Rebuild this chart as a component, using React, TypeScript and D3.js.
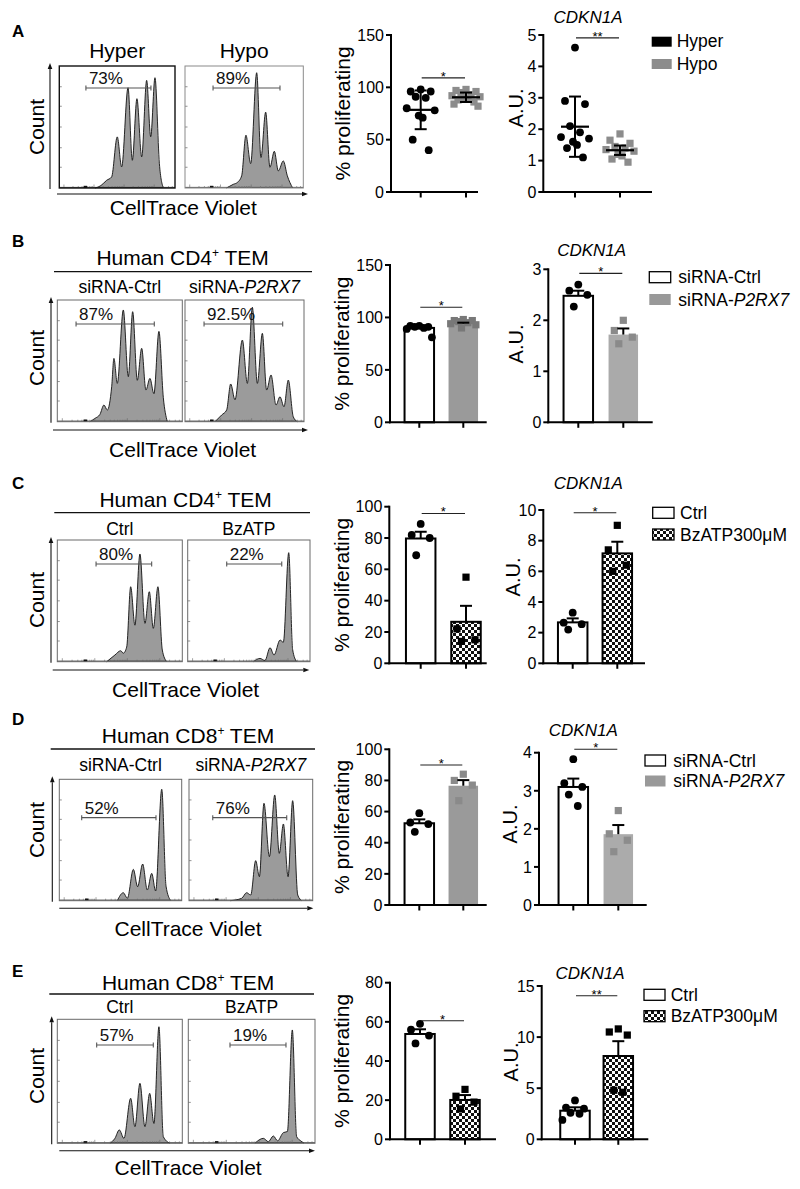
import React from 'react';
import * as d3 from 'd3';

type Pt = [number, number];
const FONT = "'Liberation Sans', Arial, Helvetica, sans-serif";

// ================= Flow histograms (x: CTV position 0-100 across plot, y: count % of max) =================
const histA_hyper: Pt[] = [[31, 0], [36, 2], [40.9, 6.3], [45.2, 9], [50.1, 41.9], [53.9, 17.3], [59.4, 82.2], [63.1, 22.7], [67.1, 73.2], [71.2, 25.5], [75.5, 88.2], [79, 42], [82.7, 90.4], [86.5, 20], [89.9, 0]];
const histA_hypo: Pt[] = [[35, 0], [40.8, 3], [44.2, 4.5], [47.9, 10], [51.5, 43.3], [55.5, 20], [60.6, 94.5], [64.2, 25], [68.2, 62.2], [71.8, 17], [75.5, 30.1], [78.9, 14], [83.1, 22.2], [86.5, 10], [91, 0]];
const histB_ctrl: Pt[] = [[26, 0], [30.1, 2.7], [34.1, 6], [37.3, 13.7], [40, 9.6], [43.5, 28.8], [45.3, 52], [48, 31.5], [52.8, 91.8], [56.8, 37], [60.3, 90.4], [64, 34], [67.5, 60.3], [70.9, 26], [74.1, 35.6], [77.3, 23], [81.3, 74.2], [84.8, 20], [88, 0]];
const histB_p2rx7: Pt[] = [[25.2, 0], [30.8, 5.5], [35, 9.6], [38.4, 31], [42, 18], [48.2, 67.1], [52.4, 31.5], [56.6, 94], [60.8, 31.5], [65, 72.6], [68.6, 26], [72.3, 38.4], [76.5, 13.7], [79.8, 20.5], [83.2, 12.3], [86.8, 34.2], [91, 4], [94.4, 0]];
const histC_ctrl: Pt[] = [[39.5, 0], [46.1, 5.5], [50.7, 9], [52.8, 7], [55.5, 12], [58.7, 61.6], [62.1, 30], [66.1, 88.5], [70.1, 31.5], [73.6, 57.5], [76.8, 27.4], [80.5, 61.6], [84, 9.6], [87.5, 0]];
const histC_bzatp: Pt[] = [[53.7, 0], [59.1, 2.7], [63.2, 1], [67.3, 11.5], [70.6, 5.5], [75.5, 17.8], [78.2, 16], [82.6, 89.6], [85.8, 10], [89.1, 0]];
const histD_ctrl: Pt[] = [[47.4, 0], [52.3, 6.6], [55.6, 2], [60.5, 25.8], [64, 11.5], [68.1, 30.2], [71.9, 8.8], [75.5, 22.5], [78.7, 8], [83.7, 91.8], [87.2, 12], [91, 0]];
const histD_p2rx7: Pt[] = [[33.2, 0], [42.6, 2], [46.6, 6.6], [49.9, 4.7], [53.9, 33], [56.9, 19.8], [60.6, 80.2], [65, 36.3], [69.3, 87.1], [73, 39], [76.3, 63.2], [80.1, 19.8], [83.8, 82.4], [87.9, 4.7], [91.1, 0]];
const histE_ctrl: Pt[] = [[42.1, 0], [46.1, 4], [49.6, 10.8], [53.3, 4], [58.7, 36.3], [62.1, 13.4], [66.1, 48.4], [70.1, 13.4], [73.9, 40.3], [77.3, 16], [81.3, 94], [84.8, 5.4], [90.1, 0]];
const histE_bzatp: Pt[] = [[52.6, 0], [59.2, 4], [63.2, 1.3], [67.1, 5.9], [70.5, 2], [75, 8.6], [78.2, 9.5], [82.1, 91.4], [85.5, 5.4], [88.7, 2], [91.3, 0]];

// gates: [start, end, level]
const gateLabels = [['73%', '89%'], ['87%', '92.5%'], ['80%', '22%'], ['52%', '76%'], ['57%', '19%']];
const gateRanges: [number, number, number][][] = [
  [[23, 79.2, 82], [23.7, 80.3, 82]],
  [[15, 77.6, 80.3], [16, 82.1, 80.3]],
  [[31, 75.5, 80.3], [31.9, 76.9, 80.3]],
  [[18.3, 79, 68.4], [19.2, 79, 68.4]],
  [[31.5, 76.8, 79.3], [32.9, 77.1, 79.3]],
];
const conditionLabels = [['Hyper', 'Hypo'], ['siRNA-Ctrl', 'siRNA-P2RX7'], ['Ctrl', 'BzATP'], ['siRNA-Ctrl', 'siRNA-P2RX7'], ['Ctrl', 'BzATP']];
const headerCells = [null, '4', '4', '8', '8'];
const panelLetters = ['A', 'B', 'C', 'D', 'E'];
const histSets = [[histA_hyper, histA_hypo], [histB_ctrl, histB_p2rx7], [histC_ctrl, histC_bzatp], [histD_ctrl, histD_p2rx7], [histE_ctrl, histE_bzatp]];

// ================= Quantification data =================
// Panel A (dot plots, mean ± SD)
const prolifA_hyper = [98, 96, 96, 91, 90, 80, 78, 73, 71, 50, 40];
const prolifA_hypo = [98, 97, 96, 95, 93, 92, 91, 90, 89, 88, 86, 84, 82];
const prolifA_mean = [78.5, 90.5];
const prolifA_err = [18.5, 4.5];
const cdknA_hyper = [4.6, 2.9, 2.8, 2.1, 1.9, 1.75, 1.7, 1.6, 1.5, 1.4, 1.1];
const cdknA_hypo = [1.85, 1.65, 1.55, 1.45, 1.4, 1.35, 1.3, 1.2, 1.15, 1.05, 0.95];
const cdknA_mean = [2.08, 1.33];
const cdknA_err = [0.96, 0.15];
// Panel B
const prolifB_ctrl = [92, 92, 91, 91, 90, 89, 81];
const prolifB_p2rx7 = [98, 97, 97, 96, 95, 94, 93, 90];
const prolifB_mean = [90, 94];
const prolifB_err = [1.5, 1.0];
const cdknB_ctrl = [2.7, 2.58, 2.5, 2.27];
const cdknB_p2rx7 = [2.0, 1.8, 1.67, 1.54];
const cdknB_mean = [2.48, 1.72];
const cdknB_err = [0.1, 0.12];
// Panel C
const prolifC_ctrl = [89, 82, 80, 69];
const prolifC_bzatp = [55, 22, 15, 14];
const prolifC_mean = [79.7, 26.5];
const prolifC_err = [4.3, 10.2];
const cdknC_ctrl = [3.3, 2.65, 2.55, 2.2];
const cdknC_bzatp = [9.0, 7.4, 6.4, 6.0];
const cdknC_mean = [2.67, 7.17];
const cdknC_err = [0.26, 0.76];
// Panel D
const prolifD_ctrl = [59, 53, 52, 47];
const prolifD_p2rx7 = [84, 80, 77, 67];
const prolifD_mean = [52.5, 76.6];
const prolifD_err = [2.5, 3.6];
const cdknD_ctrl = [3.83, 3.2, 3.1, 2.9, 2.6];
const cdknD_p2rx7 = [2.48, 1.87, 1.7, 1.4];
const cdknD_mean = [3.1, 1.86];
const cdknD_err = [0.22, 0.24];
// Panel E
const prolifE_ctrl = [59, 56, 53, 49];
const prolifE_bzatp = [25.5, 22, 19, 15.5];
const prolifE_mean = [53.8, 20.1];
const prolifE_err = [2.4, 2.5];
const cdknE_ctrl = [3.8, 3.1, 3.0, 2.6, 2.5, 1.9];
const cdknE_bzatp = [10.8, 10.5, 10.2, 4.8, 4.6];
const cdknE_mean = [2.8, 8.15];
const cdknE_err = [0.33, 1.45];

const ticksA_prolif = [0, 50, 100, 150];
const ticksA_cdkn = [0, 1, 2, 3, 4, 5];
const ticksB_prolif = [0, 50, 100, 150];
const ticksB_cdkn = [0, 1, 2, 3];
const ticksC_prolif = [0, 20, 40, 60, 80, 100];
const ticksC_cdkn = [0, 2, 4, 6, 8, 10];
const ticksD_prolif = [0, 20, 40, 60, 80, 100];
const ticksD_cdkn = [0, 1, 2, 3, 4];
const ticksE_prolif = [0, 20, 40, 60, 80];
const ticksE_cdkn = [0, 5, 10, 15];

const sigProlif = ['*', '*', '*', '*', '*'];
const sigCdkn = ['**', '*', '*', '*', '**'];
const legendLabels = [['Hyper', 'Hypo'], ['siRNA-Ctrl', 'siRNA-P2RX7'], ['Ctrl', 'BzATP300μM'], ['siRNA-Ctrl', 'siRNA-P2RX7'], ['Ctrl', 'BzATP300μM']];

// ================= Layout =================
const flowLayout = [
  { letterY: 36.5, headerY: 0, lineY: 0, lineX: [0, 0], condY: 58, condSize: 21, boxes: [[59.3, 175], [185, 303.3]], boxY: [66, 188], borders: ['#111', '#8a8a8a'], bws: [1.4, 1], yArrowX: 50, xArrowY: 194, xArrowX: [57, 308], ctvY: 215, countY: 127 },
  { letterY: 247, headerY: 265, lineY: 271.7, lineX: [54, 312], condY: 293, condSize: 17.5, boxes: [[57.3, 182.3], [185, 304]], boxY: [300, 421.7], borders: ['#6a6a6a', '#6a6a6a'], bws: [1, 1], yArrowX: 51, xArrowY: 430, xArrowX: [53, 308], ctvY: 456.5, countY: 358 },
  { letterY: 489, headerY: 506.7, lineY: 512.7, lineX: [54.3, 310], condY: 535, condSize: 17.5, boxes: [[57.3, 182.3], [187.7, 310]], boxY: [540, 661.7], borders: ['#6a6a6a', '#6a6a6a'], bws: [1, 1], yArrowX: 51, xArrowY: 670, xArrowX: [52.7, 309.3], ctvY: 697, countY: 600 },
  { letterY: 725, headerY: 743.3, lineY: 749, lineX: [50.7, 315], condY: 771, condSize: 17.5, boxes: [[59.3, 181.7], [189, 312.7]], boxY: [779.3, 900.7], borders: ['#6a6a6a', '#6a6a6a'], bws: [1, 1], yArrowX: 52.3, xArrowY: 908.3, xArrowX: [59.3, 313.3], ctvY: 936, countY: 830 },
  { letterY: 976.5, headerY: 990, lineY: 994, lineX: [49.3, 314], condY: 1013.3, condSize: 17.5, boxes: [[57.3, 182.3], [188.3, 315]], boxY: [1019.3, 1143.3], borders: ['#6a6a6a', '#6a6a6a'], bws: [1, 1], yArrowX: 51.7, xArrowY: 1150.7, xArrowX: [59.3, 315], ctvY: 1175, countY: 1076 },
];

interface Group { values: number[]; mean: number; err: number; fill: string; stroke: string; pt: string; shape: 'circle' | 'square'; }
interface ChartCfg {
  kind: 'bar' | 'scatter'; axisX: number; yTop: number; yBot: number; xEnd: number; c1: number; c2: number;
  ticks: number[]; groups: Group[]; sigY: number; sig: string; ylabel: string; ylX: number; ylY: number;
  title?: [number, number];
}

const JIT = [0, -1, 1, -0.5, 0.5, -1.4, 1.4, -0.2, 0.2, -0.8, 0.8, -1.2, 1.2];

const white = (values: number[], mean: number, err: number): Group => ({ values, mean, err, fill: '#fff', stroke: '#000', pt: '#000', shape: 'circle' });
const checker = (values: number[], mean: number, err: number): Group => ({ values, mean, err, fill: 'url(#checker)', stroke: '#000', pt: '#000', shape: 'square' });
const grey = (values: number[], mean: number, err: number, fill: string, pt: string): Group => ({ values, mean, err, fill, stroke: 'none', pt, shape: 'square' });

const charts: ChartCfg[] = [
  { kind: 'scatter', axisX: 391, yTop: 35, yBot: 192, xEnd: 478, c1: 420.7, c2: 466, ticks: ticksA_prolif, sigY: 109, sig: sigProlif[0], ylabel: '% proliferating', ylX: 349.5, ylY: 113.5,
    groups: [{ values: prolifA_hyper, mean: prolifA_mean[0], err: prolifA_err[0], fill: 'none', stroke: '#000', pt: '#000', shape: 'circle' }, { values: prolifA_hypo, mean: prolifA_mean[1], err: prolifA_err[1], fill: 'none', stroke: '#000', pt: '#8c8c8c', shape: 'square' }] },
  { kind: 'scatter', axisX: 543.3, yTop: 35, yBot: 192, xEnd: 652, c1: 575, c2: 620, ticks: ticksA_cdkn, sigY: 4.91, sig: sigCdkn[0], ylabel: 'A.U.', ylX: 523, ylY: 108, title: [588, 23],
    groups: [{ values: cdknA_hyper, mean: cdknA_mean[0], err: cdknA_err[0], fill: 'none', stroke: '#000', pt: '#000', shape: 'circle' }, { values: cdknA_hypo, mean: cdknA_mean[1], err: cdknA_err[1], fill: 'none', stroke: '#000', pt: '#8c8c8c', shape: 'square' }] },
  { kind: 'bar', axisX: 390, yTop: 265, yBot: 422.3, xEnd: 486.7, c1: 419.3, c2: 463.3, ticks: ticksB_prolif, sigY: 109.7, sig: sigProlif[1], ylabel: '% proliferating', ylX: 348.5, ylY: 343.7,
    groups: [white(prolifB_ctrl, prolifB_mean[0], prolifB_err[0]), grey(prolifB_p2rx7, prolifB_mean[1], prolifB_err[1], '#9a9a9a', '#787878')] },
  { kind: 'bar', axisX: 548.3, yTop: 269.3, yBot: 422.3, xEnd: 652.7, c1: 578.3, c2: 623.3, ticks: ticksB_cdkn, sigY: 2.92, sig: sigCdkn[1], ylabel: 'A.U.', ylX: 523, ylY: 344, title: [591.7, 256.7],
    groups: [white(cdknB_ctrl, cdknB_mean[0], cdknB_err[0]), grey(cdknB_p2rx7, cdknB_mean[1], cdknB_err[1], '#aaaaaa', '#8a8a8a')] },
  { kind: 'bar', axisX: 389.3, yTop: 506.7, yBot: 663.3, xEnd: 486.7, c1: 420.7, c2: 466, ticks: ticksC_prolif, sigY: 95.7, sig: sigProlif[2], ylabel: '% proliferating', ylX: 348.5, ylY: 585,
    groups: [white(prolifC_ctrl, prolifC_mean[0], prolifC_err[0]), checker(prolifC_bzatp, prolifC_mean[1], prolifC_err[1])] },
  { kind: 'bar', axisX: 543.3, yTop: 510, yBot: 663.3, xEnd: 645, c1: 572.7, c2: 617.3, ticks: ticksC_cdkn, sigY: 9.82, sig: sigCdkn[2], ylabel: 'A.U.', ylX: 520, ylY: 577, title: [588.3, 489.3],
    groups: [white(cdknC_ctrl, cdknC_mean[0], cdknC_err[0]), checker(cdknC_bzatp, cdknC_mean[1], cdknC_err[1])] },
  { kind: 'bar', axisX: 389.3, yTop: 749.3, yBot: 905, xEnd: 486.7, c1: 419.3, c2: 463.3, ticks: ticksD_prolif, sigY: 89.9, sig: sigProlif[3], ylabel: '% proliferating', ylX: 348.5, ylY: 827,
    groups: [white(prolifD_ctrl, prolifD_mean[0], prolifD_err[0]), grey(prolifD_p2rx7, prolifD_mean[1], prolifD_err[1], '#9a9a9a', '#8a8a8a')] },
  { kind: 'bar', axisX: 539, yTop: 752.7, yBot: 905, xEnd: 646.7, c1: 573.3, c2: 618.3, ticks: ticksD_cdkn, sigY: 4.09, sig: sigCdkn[3], ylabel: 'A.U.', ylX: 517, ylY: 824, title: [583.3, 736.7],
    groups: [white(cdknD_ctrl, cdknD_mean[0], cdknD_err[0]), grey(cdknD_p2rx7, cdknD_mean[1], cdknD_err[1], '#ababab', '#8c8c8c')] },
  { kind: 'bar', axisX: 390, yTop: 982.7, yBot: 1139.3, xEnd: 496, c1: 420, c2: 465, ticks: ticksE_prolif, sigY: 60.6, sig: sigProlif[4], ylabel: '% proliferating', ylX: 348.5, ylY: 1061,
    groups: [white(prolifE_ctrl, prolifE_mean[0], prolifE_err[0]), checker(prolifE_bzatp, prolifE_mean[1], prolifE_err[1])] },
  { kind: 'bar', axisX: 541.7, yTop: 986, yBot: 1139.3, xEnd: 648.3, c1: 575, c2: 618.3, ticks: ticksE_cdkn, sigY: 14.05, sig: sigCdkn[4], ylabel: 'A.U.', ylX: 518.3, ylY: 1062, title: [590, 979.3],
    groups: [white(cdknE_ctrl, cdknE_mean[0], cdknE_err[0]), checker(cdknE_bzatp, cdknE_mean[1], cdknE_err[1])] },
];

const legendLayout = [
  { x: 651.7, ys: [36.7, 59], w: 20, h: 10, tx: 676.7, styles: [{ fill: '#000', stroke: 'none' }, { fill: '#8c8c8c', stroke: 'none' }] },
  { x: 649.3, ys: [271.7, 294], w: 21.4, h: 11, tx: 678.3, styles: [{ fill: '#fff', stroke: '#000' }, { fill: '#999', stroke: 'none' }] },
  { x: 652.7, ys: [507.3, 529], w: 21.3, h: 11, tx: 680, styles: [{ fill: '#fff', stroke: '#000' }, { fill: 'url(#checker)', stroke: '#000' }] },
  { x: 645, ys: [755, 775.5], w: 20.5, h: 11, tx: 673.3, styles: [{ fill: '#fff', stroke: '#000' }, { fill: '#999', stroke: 'none' }] },
  { x: 644, ys: [989.3, 1010.7], w: 21, h: 11, tx: 670.7, styles: [{ fill: '#fff', stroke: '#000' }, { fill: 'url(#checker)', stroke: '#000' }] },
];

// ================= Components =================
function Rich({ text }: { text: string }) {
  const k = text.indexOf('P2RX7');
  if (k < 0) return <>{text}</>;
  return <>{text.slice(0, k)}<tspan fontStyle="italic">P2RX7</tspan>{text.slice(k + 5)}</>;
}

function Arrow({ x1, y1, x2, y2 }: { x1: number; y1: number; x2: number; y2: number }) {
  const dx = x2 - x1, dy = y2 - y1, L = Math.hypot(dx, dy);
  const ux = dx / L, uy = dy / L;
  const hl = 6, hw = 2.3;
  const bx = x2 - ux * hl, by = y2 - uy * hl;
  return (
    <g>
      <line x1={x1} y1={y1} x2={bx} y2={by} stroke="#111" strokeWidth={1.1} />
      <polygon points={`${x2},${y2} ${bx - uy * hw},${by + ux * hw} ${bx + uy * hw},${by - ux * hw}`} fill="#111" />
    </g>
  );
}

function Hist({ box, yr, data, gate, label, border, bw }: { box: number[]; yr: number[]; data: Pt[]; gate: [number, number, number]; label: string; border: string; bw: number }) {
  const [x0, x1] = box; const [y0, y1] = yr;
  const xs = d3.scaleLinear().domain([0, 100]).range([x0, x1]);
  const ys = d3.scaleLinear().domain([0, 100]).range([y1, y0]);
  const area = d3.area<Pt>().x(d => xs(d[0])).y0(ys(0)).y1(d => ys(d[1])).curve(d3.curveMonotoneX);
  const line = d3.line<Pt>().x(d => xs(d[0])).y(d => ys(d[1])).curve(d3.curveMonotoneX);
  const leftTicks = [17, 33, 50, 67, 83];
  const bottomTicks: { p: number; major: boolean }[] = [];
  [4, 30, 56, 82].forEach(dd => { for (let m = 1; m <= 9; m++) { const p = dd + Math.log10(m) * 26; if (p < 99) bottomTicks.push({ p, major: m === 1 }); } });
  const gy = ys(gate[2]);
  return (
    <g>
      <path d={area(data) || ''} fill="#9b9b9b" />
      <path d={line(data) || ''} fill="none" stroke="#111" strokeWidth={0.9} />
      <line x1={x0} x2={x1} y1={y1 - 0.6} y2={y1 - 0.6} stroke="#222" strokeWidth={0.8} />
      {leftTicks.map((t, i) => <line key={'l' + i} x1={x0} x2={x0 + 2.5} y1={ys(t)} y2={ys(t)} stroke="#666" strokeWidth={0.7} />)}
      {bottomTicks.map((t, i) => <line key={'b' + i} x1={xs(t.p)} x2={xs(t.p)} y1={y1} y2={y1 - (t.major ? 3.5 : 2)} stroke="#666" strokeWidth={0.6} />)}
      <rect x={xs(21)} y={y1 - 2.2} width={3.5} height={2.2} fill="#111" />
      <rect x={x0} y={y0} width={x1 - x0} height={y1 - y0} fill="none" stroke={border} strokeWidth={bw} />
      <line x1={xs(gate[0])} x2={xs(gate[1])} y1={gy} y2={gy} stroke="#555" strokeWidth={1.1} />
      <line x1={xs(gate[0])} x2={xs(gate[0])} y1={gy - 2.5} y2={gy + 2.5} stroke="#555" strokeWidth={1.1} />
      <line x1={xs(gate[1])} x2={xs(gate[1])} y1={gy - 2.5} y2={gy + 2.5} stroke="#555" strokeWidth={1.1} />
      <text x={xs(gate[0]) + 3} y={gy - 3.5} fontSize={17} fill="#111">{label}</text>
    </g>
  );
}

function FlowPanel({ i }: { i: number }) {
  const L = flowLayout[i];
  const cx = (L.boxes[0][0] + L.boxes[1][1]) / 2 + 2;
  return (
    <g>
      <text x={12} y={L.letterY} fontSize={17} fontWeight="bold">{panelLetters[i]}</text>
      {headerCells[i] && (
        <>
          <text x={cx} y={L.headerY} fontSize={21} textAnchor="middle">Human CD{headerCells[i]}<tspan dy={-8} fontSize={12}>+</tspan><tspan dy={8}> TEM</tspan></text>
          <line x1={L.lineX[0]} x2={L.lineX[1]} y1={L.lineY} y2={L.lineY} stroke="#111" strokeWidth={1.3} />
        </>
      )}
      {L.boxes.map((b, j) => (
        <text key={'c' + j} x={(b[0] + b[1]) / 2} y={L.condY} fontSize={L.condSize} textAnchor="middle"><Rich text={conditionLabels[i][j]} /></text>
      ))}
      {L.boxes.map((b, j) => (
        <Hist key={'h' + j} box={b} yr={L.boxY} data={histSets[i][j]} gate={gateRanges[i][j]} label={gateLabels[i][j]} border={L.borders[j]} bw={L.bws[j]} />
      ))}
      <Arrow x1={L.yArrowX} y1={L.boxY[1] + 1} x2={L.yArrowX} y2={L.boxY[0] - 3} />
      <Arrow x1={L.xArrowX[0]} y1={L.xArrowY} x2={L.xArrowX[1]} y2={L.xArrowY} />
      <text transform={`translate(44,${L.countY}) rotate(-90)`} fontSize={21} textAnchor="middle">Count</text>
      <text x={cx} y={L.ctvY} fontSize={21} textAnchor="middle">CellTrace Violet</text>
    </g>
  );
}

function Chart({ c }: { c: ChartCfg }) {
  const max = c.ticks[c.ticks.length - 1];
  const y = d3.scaleLinear().domain([0, max]).range([c.yBot, c.yTop]);
  const x = d3.scalePoint<number>().domain([0, 1]).range([c.c1, c.c2]);
  const bw = 29.5;
  const spread = c.kind === 'scatter' ? 10 : 9;
  return (
    <g>
      {c.kind === 'bar' && c.groups.map((g, i) => (
        <rect key={'bar' + i} x={(x(i) as number) - bw / 2} y={y(g.mean)} width={bw} height={y(0) - y(g.mean)} fill={g.fill}
          stroke={g.stroke} strokeWidth={g.stroke === 'none' ? 0 : 2} />
      ))}
      {c.groups.map((g, i) => g.values.map((v, k) => {
        const px = (x(i) as number) + JIT[k % JIT.length] * spread;
        const py = y(v);
        return g.shape === 'circle'
          ? <circle key={`p${i}-${k}`} cx={px} cy={py} r={3.9} fill={g.pt} />
          : <rect key={`p${i}-${k}`} x={px - 3.6} y={py - 3.6} width={7.2} height={7.2} fill={g.pt} />;
      }))}
      {c.groups.map((g, i) => {
        const cx = x(i) as number;
        if (c.kind === 'bar') {
          return (
            <g key={'e' + i}>
              <line x1={cx} x2={cx} y1={y(g.mean)} y2={y(g.mean + g.err)} stroke="#000" strokeWidth={2} />
              <line x1={cx - 6} x2={cx + 6} y1={y(g.mean + g.err)} y2={y(g.mean + g.err)} stroke="#000" strokeWidth={2} />
            </g>
          );
        }
        return (
          <g key={'e' + i}>
            <line x1={cx} x2={cx} y1={y(g.mean - g.err)} y2={y(g.mean + g.err)} stroke="#000" strokeWidth={2} />
            <line x1={cx - 6} x2={cx + 6} y1={y(g.mean + g.err)} y2={y(g.mean + g.err)} stroke="#000" strokeWidth={2} />
            <line x1={cx - 6} x2={cx + 6} y1={y(g.mean - g.err)} y2={y(g.mean - g.err)} stroke="#000" strokeWidth={2} />
            <line x1={cx - 14} x2={cx + 14} y1={y(g.mean)} y2={y(g.mean)} stroke="#000" strokeWidth={2.2} />
          </g>
        );
      })}
      {/* axes */}
      <line x1={c.axisX} x2={c.axisX} y1={c.yTop - 1} y2={c.yBot + 1} stroke="#000" strokeWidth={2} />
      <line x1={c.axisX - 1} x2={c.xEnd} y1={c.yBot} y2={c.yBot} stroke="#000" strokeWidth={2} />
      {c.ticks.map(t => (
        <g key={'t' + t}>
          <line x1={c.axisX - 5} x2={c.axisX} y1={y(t)} y2={y(t)} stroke="#000" strokeWidth={2} />
          <text x={c.axisX - 7} y={y(t)} dy="0.36em" fontSize={16} textAnchor="end">{t}</text>
        </g>
      ))}
      {[0, 1].map(i => <line key={'xt' + i} x1={x(i) as number} x2={x(i) as number} y1={c.yBot} y2={c.yBot + 5.5} stroke="#000" strokeWidth={2} />)}
      {/* significance */}
      <line x1={c.c1 + 1} x2={c.c2 - 1} y1={y(c.sigY)} y2={y(c.sigY)} stroke="#222" strokeWidth={1.1} />
      <text x={(c.c1 + c.c2) / 2} y={y(c.sigY) + 3} fontSize={13} textAnchor="middle">{c.sig}</text>
      {/* labels */}
      <text transform={`translate(${c.ylX},${c.ylY}) rotate(-90)`} fontSize={c.ylabel === 'A.U.' ? 20 : 21} textAnchor="middle">{c.ylabel}</text>
      {c.title && <text x={c.title[0]} y={c.title[1] - 0.5} fontSize={17} fontStyle="italic" textAnchor="middle">CDKN1A</text>}
    </g>
  );
}

function Legend({ i }: { i: number }) {
  const L = legendLayout[i];
  return (
    <g>
      {L.ys.map((yy, j) => (
        <g key={j}>
          <rect x={L.x} y={yy} width={L.w} height={L.h} fill={L.styles[j].fill} stroke={L.styles[j].stroke} strokeWidth={L.styles[j].stroke === 'none' ? 0 : 1.3} />
          <text x={L.tx} y={yy + L.h + 0.5} fontSize={17.5}><Rich text={legendLabels[i][j]} /></text>
        </g>
      ))}
    </g>
  );
}

export default function App() {
  return (
    <svg width={800} height={1189} viewBox="0 0 800 1189" style={{ position: 'absolute', left: 0, top: 0, background: '#fff' }} fontFamily={FONT}>
      <defs>
        <pattern id="checker" width={6} height={6} patternUnits="userSpaceOnUse">
          <rect width={6} height={6} fill="#fff" />
          <rect width={3} height={3} fill="#111" />
          <rect x={3} y={3} width={3} height={3} fill="#111" />
        </pattern>
      </defs>
      <rect width={800} height={1189} fill="#fff" />
      {[0, 1, 2, 3, 4].map(i => <FlowPanel key={'f' + i} i={i} />)}
      {charts.map((c, i) => <Chart key={'c' + i} c={c} />)}
      {[0, 1, 2, 3, 4].map(i => <Legend key={'l' + i} i={i} />)}
    </svg>
  );
}
